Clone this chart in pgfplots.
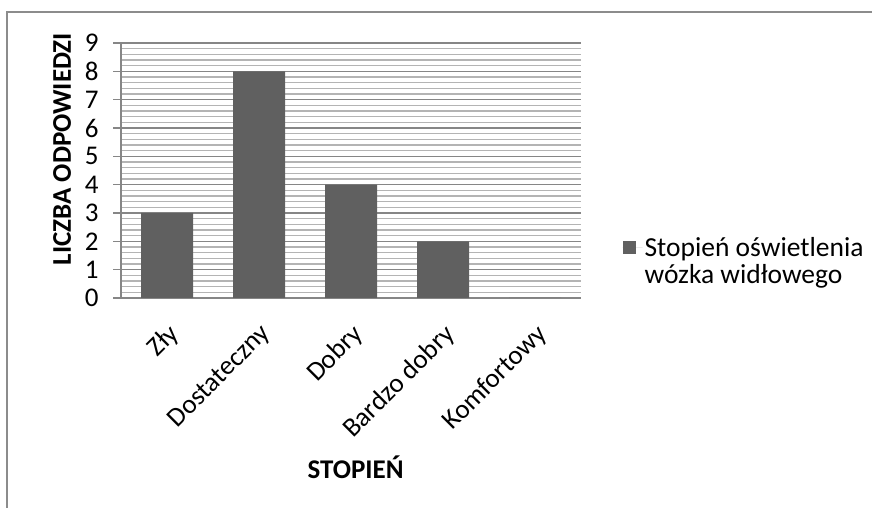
\documentclass[border=0pt]{standalone}
\usepackage{fontspec}
\setmainfont{Carlito}
\usepackage{pgfplots}
\pgfplotsset{compat=1.18}

\definecolor{barfill}{HTML}{606060}
\definecolor{majgray}{HTML}{868686}
\definecolor{mingray}{HTML}{B4B4B4}
\definecolor{framegray}{HTML}{8C8C8C}

\begin{document}
\begin{tikzpicture}[x=1pt,y=1pt]
\path[use as bounding box] (0,0) rectangle (872,508);
\draw[framegray, line width=1.5pt] (7,0) -- (7,496) -- (872,496);
\begin{axis}[
  at={(121pt,210pt)}, anchor=south west,
  scale only axis, width=460pt, height=255pt,
  ybar, bar width=52pt,
  xmin=-0.5, xmax=4.5, ymin=0, ymax=9,
  enlargelimits=false,
  xtick={0,1,2,3,4},
  xticklabels={Zły,Dostateczny,Dobry,Bardzo dobry,Komfortowy},
  ytick={0,1,...,9},
  minor y tick num=4,
  ymajorgrids, yminorgrids,
  major grid style={draw=majgray, line width=1.2pt},
  minor grid style={draw=mingray, line width=1.2pt},
  axis x line*=bottom, axis y line*=left,
  axis line style={-, draw=majgray, line width=1.5pt},
  xtick style={draw=none},
  ytick style={draw=majgray, line width=1.2pt},
  tick align=outside,
  major tick length=8pt, minor tick length=0pt,
  /pgf/number format/assume math mode=true,
  tick label style={font=\fontsize{27}{31}\selectfont},
  yticklabel style={xshift=-11pt},
  xticklabel style={rotate=45, anchor=north east, xshift=-8pt, yshift=-8pt},
  xlabel={STOPIEŃ},
  ylabel={LICZBA ODPOWIEDZI},
  label style={font=\fontsize{27}{31}\selectfont\bfseries},
  xlabel style={at={(axis description cs:0.51,-0.663)}, anchor=center},
  ylabel style={at={(axis description cs:-0.128,0.584)}, anchor=center, rotate=0},
  legend style={at={(axis description cs:1.09,0.145)}, anchor=west,
    draw=none, fill=none, font=\fontsize{27.5}{32}\selectfont,
    row sep=3pt, inner sep=0pt},
  legend cell align=left,
]
\addplot[fill=barfill, draw=none,
  legend image code/.code={\fill[barfill] (0pt,-6.5pt) rectangle (13pt,6.5pt);
    \path (0pt,0pt) -- (20pt,0pt);}]
  coordinates {(0,3) (1,8) (2,4) (3,2) (4,0)};
\addlegendentry{Stopień oświetlenia}
\addlegendimage{empty legend}
\addlegendentry{wózka widłowego}
\end{axis}
\end{tikzpicture}
\end{document}
